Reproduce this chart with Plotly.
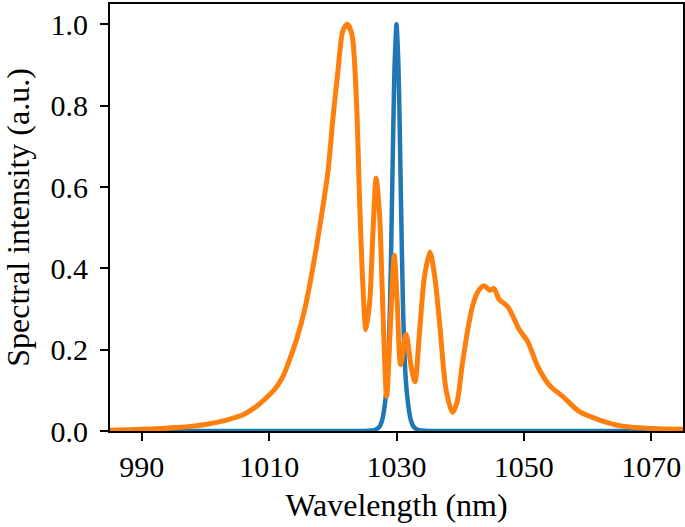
import plotly.graph_objects as go

# Blue: input pulse spectrum
blue_wl = [985, 1025, 1026, 1026.5, 1027.3, 1027.8, 1028.25, 1028.6, 1029.0, 1029.3, 1029.5,
           1029.7, 1030.0, 1030.3, 1030.5, 1030.7, 1031.0, 1031.4, 1031.75, 1032.2, 1032.7,
           1033.5, 1034, 1035, 1075]
blue_int = [0, 0, 0.001, 0.002, 0.01, 0.03, 0.076, 0.14, 0.32, 0.57, 0.75,
            0.9, 1.0, 0.9, 0.75, 0.57, 0.32, 0.14, 0.076, 0.03, 0.01,
            0.002, 0.001, 0, 0]

# Orange: broadened output spectrum
orange_wl = [985, 988, 990, 993, 996, 998, 1000, 1002.3, 1004, 1005.9, 1007.5, 1009.3, 1011,
             1012.2, 1013.2, 1014.3, 1015.6, 1016.9, 1018.2, 1019.25, 1020.0, 1020.8, 1021.6,
             1022.3, 1023.0, 1023.7, 1024.2, 1024.7, 1025.2, 1025.8, 1026.3, 1026.8, 1027.35,
             1027.9, 1028.45, 1029.1, 1029.65, 1030.1, 1030.65, 1031.5, 1032.3, 1032.9, 1033.6,
             1034.4, 1035.25, 1036.0, 1036.8, 1037.8, 1038.8, 1039.5, 1040.3, 1041.2, 1042.0,
             1042.7, 1043.7, 1044.7, 1045.3, 1046.1, 1047.5, 1049.3, 1050.6, 1052.2, 1054.0,
             1056.1, 1058.7, 1061.9, 1065.5, 1070.2, 1075]
orange_int = [0.002, 0.003, 0.004, 0.006, 0.009, 0.012, 0.016, 0.023, 0.030, 0.040, 0.055, 0.078, 0.105,
              0.135, 0.175, 0.225, 0.300, 0.405, 0.528, 0.640, 0.766, 0.885, 0.985,
              1.0, 0.975, 0.815, 0.569, 0.364, 0.249, 0.32, 0.487, 0.622, 0.528,
              0.28, 0.085, 0.28, 0.432, 0.32, 0.163, 0.238, 0.158, 0.121, 0.24,
              0.38, 0.44, 0.38, 0.26, 0.10, 0.046, 0.07, 0.16, 0.25, 0.31,
              0.34, 0.357, 0.346, 0.351, 0.324, 0.305, 0.249, 0.22, 0.158, 0.113,
              0.085, 0.048, 0.027, 0.012, 0.006, 0.004]

x_ticks = [990, 1010, 1030, 1050, 1070]
y_ticks = [0.0, 0.2, 0.4, 0.6, 0.8, 1.0]

FONT = "Liberation Serif"

fig = go.Figure()
fig.add_trace(go.Scatter(x=blue_wl, y=blue_int, mode="lines",
                         line=dict(color="#1f77b4", width=4.5, shape="spline", smoothing=0.6),
                         showlegend=False))
fig.add_trace(go.Scatter(x=orange_wl, y=orange_int, mode="lines",
                         line=dict(color="#ff7f0e", width=5, shape="spline", smoothing=0.8),
                         showlegend=False))

axis_common = dict(showgrid=False, zeroline=False, showline=True, linecolor="black",
                   linewidth=2, mirror=True, ticks="outside", ticklen=8, tickwidth=2,
                   tickcolor="black", tickfont=dict(family=FONT, size=30, color="black"))

fig.update_xaxes(range=[985, 1075], tickvals=x_ticks, ticktext=[str(v) for v in x_ticks],
                 title=dict(text="Wavelength (nm)", font=dict(family=FONT, size=32, color="black"),
                            standoff=12),
                 **axis_common)
fig.update_yaxes(range=[0, 1.05], tickvals=y_ticks, ticktext=[f"{v:.1f}" for v in y_ticks],
                 ticklabelstandoff=6,
                 title=dict(text="Spectral intensity (a.u.)",
                            font=dict(family=FONT, size=32, color="black"), standoff=12),
                 **axis_common)

fig.update_layout(width=685, height=527, margin=dict(l=110, r=2, t=4, b=96, autoexpand=False),
                  plot_bgcolor="white", paper_bgcolor="white")

fig.write_html("out.html", config={"displayModeBar": False},
               post_script="document.body.style.margin='0';")
